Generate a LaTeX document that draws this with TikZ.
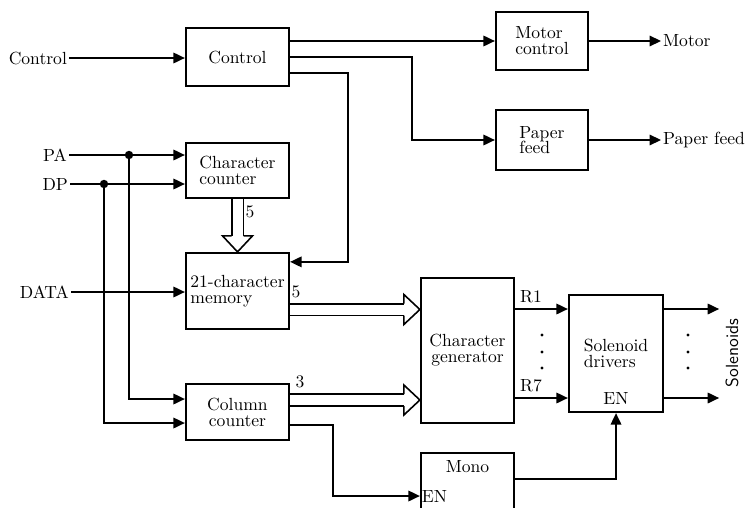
\documentclass[tikz,border=0pt]{standalone}
\usetikzlibrary{arrows.meta,calc}
\begin{document}
\begin{tikzpicture}[x=0.02cm,y=-0.02cm,>={Triangle[length=6.5pt,width=6pt]}]

% --- Styles ---
\tikzset{
    blockBox/.style={
        draw,
        line width=1.3pt,
        align=center,
        inner sep=0pt,
        font=\fontsize{10}{9}\selectfont
    },
    signalLine/.style={
        line width=0.9pt
    },
    busLine/.style={
        line width=0.9pt,
        double,
        double distance=0.2cm
    },
    busHead/.pic={
        \draw[line width=0.9pt] (-16,-6) -- (-16,-15) -- (0,0) -- (-16,15) -- (-16,6);
    },
    inputLabel/.style={
        anchor=east,
        inner sep=1pt
    },
    outputLabel/.style={
        anchor=west,
        inner sep=1pt
    },
    countLabel/.style={
        inner sep=0pt
    },
    junctionDot/.style={
        fill=black
    }
}

\useasboundingbox (0,0) rectangle (749,507);

% =========================================================
% Blokken
% =========================================================
\node[blockBox, minimum width=2.06cm, minimum height=1.16cm] (ctrl) at (237.5,57) {Control};
\node[blockBox, align=left, minimum width=1.84cm, minimum height=1.16cm] (motor) at (542,41) {Motor\\control};
\node[blockBox, align=left, minimum width=1.84cm, minimum height=1.2cm] (paper) at (542,140) {Paper\\feed};
\node[blockBox, align=left, minimum width=2.06cm, minimum height=1.1cm] (cnt) at (237.5,170.5) {Character\\counter};
\node[blockBox, align=left, minimum width=2.06cm, minimum height=1.52cm] (mem) at (237.5,291) {21-character\\memory};
\node[blockBox, minimum width=2.06cm, minimum height=1.12cm] (col) at (237.5,412) {Column\\counter};
\node[blockBox, minimum width=1.86cm, minimum height=2.9cm] (gen) at (467.5,350.5) {Character\\generator};
\node[blockBox, align=left, minimum width=1.88cm, minimum height=2.34cm] (sol) at (616,353.5) {Solenoid\\drivers};
\node[blockBox, minimum width=1.86cm, minimum height=1.72cm] (mono) at (467.5,496) {};

\node (monoName) at ($(mono.north)+(0,15)$) {Mono};
\node[outputLabel] (monoEn) at (mono.west) {EN};
\node (solEn) at ($(sol.south)+(0,-15)$) {EN};

% =========================================================
% Ingangen
% =========================================================
\node[inputLabel] (ctrlIn) at (69,58) {Control};
\node[inputLabel] (paIn) at (69,155) {PA};
\node[inputLabel] (dpIn) at (70,184) {DP};
\node[inputLabel] (dataIn) at (71,292) {DATA};

\draw[signalLine,->] (ctrlIn.east) -- (ctrlIn.east -| ctrl.west);
\draw[signalLine,->] (paIn.east) -- (paIn.east -| cnt.west);
\draw[signalLine,->] (dpIn.east) -- (dpIn.east -| cnt.west);
\draw[signalLine,->] (dataIn.east) -- (dataIn.east -| mem.west);

% Aftakkingen naar de kolomteller
\path (paIn.east) ++(60,0) coordinate (paTap);
\path (dpIn.east) ++(34,0) coordinate (dpTap);
\draw[signalLine,->] (paTap) |- ($(col.west)+(0,-13)$);
\draw[signalLine,->] (dpTap) |- ($(col.west)+(0,11)$);
\fill[junctionDot] (paTap) circle[radius=2.4pt];
\fill[junctionDot] (dpTap) circle[radius=2.4pt];

% =========================================================
% Uitgangen van de besturing
% =========================================================
\draw[signalLine,->] (ctrl.east |- motor.west) -- (motor.west);
\draw[signalLine,->] (ctrl.east) -- ++(122,0) |- (paper.west);
\draw[signalLine,->] ($(ctrl.east)+(0,16)$) -- ++(58,0) |- ($(mem.north east)+(0,10)$);

\node[outputLabel] (motorOut) at (661,41) {Motor};
\node[outputLabel] (paperOut) at (661,140) {Paper feed};
\draw[signalLine,->] (motor.east) -- (motorOut.west);
\draw[signalLine,->] (paper.east) -- (paperOut.west);

% =========================================================
% Bussen
% =========================================================
\draw[busLine] (cnt.south) -- ($(mem.north)+(0,-16)$);
\pic[rotate=-90] at (mem.north) {busHead};
\node[countLabel] (cntBits) at (250,212) {5};

\coordinate (memBus) at ($(mem.east)+(0,18.5)$);
\draw[busLine] (memBus) -- ($(memBus -| gen.west)+(-16,0)$);
\pic at (memBus -| gen.west) {busHead};
\node[countLabel] (memBits) at (296,292) {5};

\coordinate (colBus) at ($(col.east)+(0,-12)$);
\draw[busLine] (colBus) -- ($(colBus -| gen.west)+(-16,0)$);
\pic at (colBus -| gen.west) {busHead};
\node[countLabel] (colBits) at (300,382) {3};

% =========================================================
% Mono en rijen
% =========================================================
\draw[signalLine,->] ($(col.east)+(0,13)$) -- ++(43,0) |- (mono.west);
\draw[signalLine,->] ($(mono.east)+(0,-17)$) -| (sol.south);

\coordinate (rTop) at ($(sol.west)+(0,-44.5)$);
\coordinate (rBot) at ($(sol.west)+(0,44.5)$);
\draw[signalLine,->] (gen.east |- rTop) -- (rTop);
\draw[signalLine,->] (gen.east |- rBot) -- (rBot);
\node (rOne) at (531,297) {R1};
\node (rSeven) at (531,386) {R7};

\coordinate (solTop) at ($(sol.east |- rTop)+(55,0)$);
\coordinate (solBot) at ($(sol.east |- rBot)+(55,0)$);
\draw[signalLine,->] (sol.east |- rTop) -- (solTop);
\draw[signalLine,->] (sol.east |- rBot) -- (solBot);

\foreach \y in {335,352,368} {
    \fill (542,\y) circle[radius=0.9pt];
    \fill (688,\y) circle[radius=0.9pt];
}

\node[rotate=90, font=\sffamily] (solOut) at (732,353) {Solenoids};

\end{tikzpicture}
\end{document}
